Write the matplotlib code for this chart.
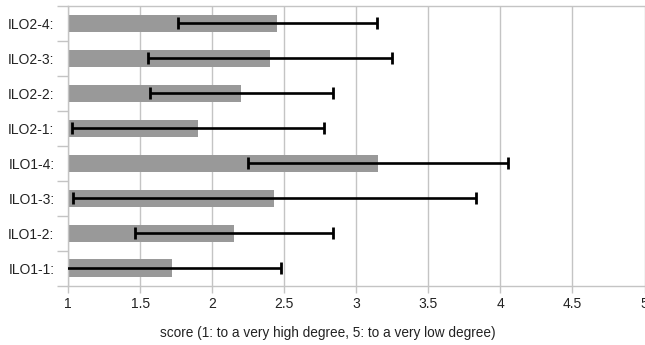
import numpy as np
import matplotlib
matplotlib.use("Agg")
import matplotlib.pyplot as plt

plt.rcParams["font.family"] = ["Liberation Sans", "DejaVu Sans"]

# ===== 数据 (自下而上) =====
labels = ["ILO1-1:", "ILO1-2:", "ILO1-3:", "ILO1-4:",
          "ILO2-1:", "ILO2-2:", "ILO2-3:", "ILO2-4:"]
means = [1.72, 2.15, 2.43, 3.15, 1.90, 2.20, 2.40, 2.45]
errors = [0.755, 0.69, 1.40, 0.90, 0.875, 0.635, 0.845, 0.69]
x_ticks = [1, 1.5, 2, 2.5, 3, 3.5, 4, 4.5, 5]
x_tick_labels = ["1", "1.5", "2", "2.5", "3", "3.5", "4", "4.5", "5"]
x_label = "score (1: to a very high degree, 5: to a very low degree)"

grid_col = "#c4c4c4"

fig = plt.figure(figsize=(6.45, 3.45), dpi=100)
ax = fig.add_axes([68.3 / 645, 59.3 / 345, 576.2 / 645, 279.7 / 345])

y = np.arange(len(labels))
base = x_ticks[0]
ax.barh(y, np.array(means) - base, left=base, height=0.5, color="#999999", zorder=2)
ax.errorbar(means, y, xerr=errors, fmt="none", ecolor="black", elinewidth=1.9,
            capsize=4.3, capthick=2.0, zorder=3)

ax.set_xlim(1, 5)
ax.set_ylim(-0.5, len(labels) - 0.5)
ax.set_xticks(x_ticks)
ax.set_xticklabels(x_tick_labels, fontsize=10, color="#222222")
ax.set_yticks(y)
ax.set_yticklabels(labels, fontsize=10, color="#222222")
ax.set_yticks(np.arange(-0.5, len(labels), 1.0), minor=True)

ax.tick_params(axis="y", which="major", length=0, pad=10)
ax.tick_params(axis="y", which="minor", length=8, color=grid_col, width=1)
ax.tick_params(axis="x", which="major", length=5, color=grid_col, width=1, pad=3)

ax.xaxis.grid(True, color=grid_col, linewidth=1, zorder=0)
ax.set_axisbelow(True)
for side in ["left", "bottom", "top"]:
    ax.spines[side].set_color(grid_col)
    ax.spines[side].set_linewidth(1)
ax.spines["right"].set_visible(False)

ax.set_xlabel(x_label, fontsize=9.8, color="#222222", va="center")
ax.xaxis.set_label_coords(0.451, -0.169)

plt.savefig("out.png", dpi=100)
